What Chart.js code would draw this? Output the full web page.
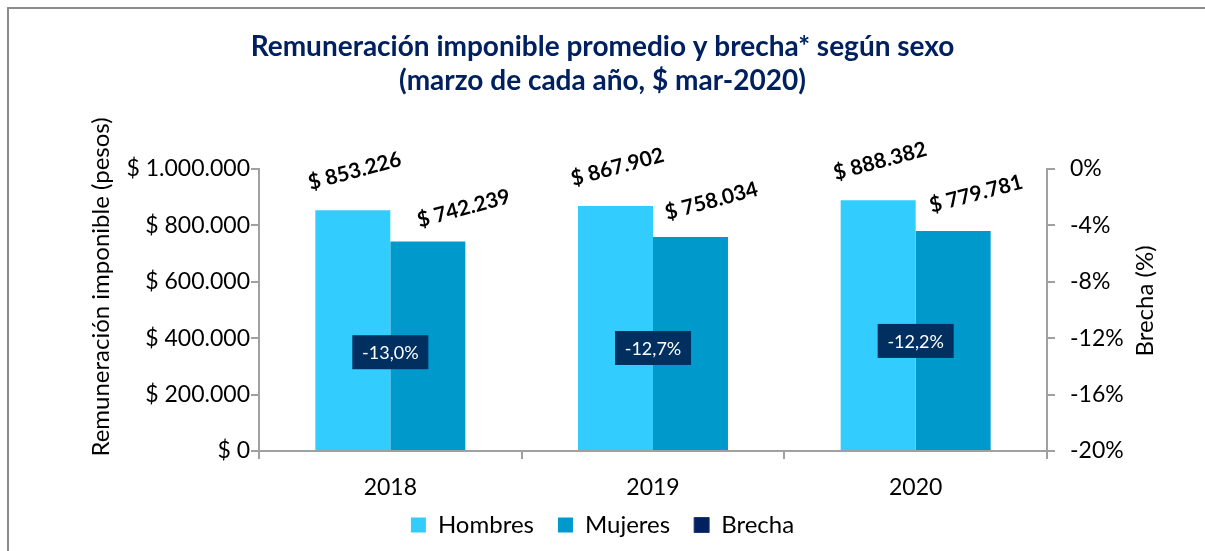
<!DOCTYPE html>
<html>
<head>
<meta charset="utf-8">
<script src="https://cdn.jsdelivr.net/npm/chart.js@4.4.0/dist/chart.umd.min.js"></script>
<style>
html, body { margin: 0; padding: 0; background: #fff; }
#wrap { position: relative; width: 1205px; height: 551px; }
#frame { position: absolute; left: 7px; top: 7px; right: 0; bottom: 0; border-top: 2px solid #8c8c8c; border-left: 2px solid #8c8c8c; pointer-events: none; }
</style>
</head>
<body>
<div id="wrap">
  <canvas id="chart" width="1205" height="551"></canvas>
  <div id="frame"></div>
</div>
<script>
// data
const years = ['2018', '2019', '2020'];
const hombres = [853226, 867902, 888382];
const mujeres = [742239, 758034, 779781];
const brecha = [-13.0, -12.7, -12.2];
const leftAxisTitle = 'Remuneración imponible (pesos)';
const rightAxisTitle = 'Brecha (%)';
const titleLines = ['Remuneración imponible promedio y brecha* según sexo', '(marzo de cada año, $ mar-2020)'];

const FONT = 'Lato';
const AXIS_GREY = '#A0A0A0';
const NAVY = '#002060';

function fmtPesos(n) {
    return '$ ' + Math.round(n).toString().replace(/\B(?=(\d{3})+(?!\d))/g, '.');
}
function fmtPct(v) {
    return v.toFixed(1).replace('.', ',') + '%';
}

// label nudges (px) for the rotated value labels, like the moved labels in the original
const labelShift = [
    [[2, -39], [2, -39], [2, -39]],
    [[36, -33], [21, -36], [23, -37]]
];

const labelsPlugin = {
    id: 'valueLabels',
    afterDatasetsDraw(chart) {
        const ctx = chart.ctx;
        [0, 1].forEach(di => {
            const meta = chart.getDatasetMeta(di);
            meta.data.forEach((bar, i) => {
                const v = chart.data.datasets[di].data[i];
                ctx.save();
                ctx.translate(bar.x + labelShift[di][i][0], bar.y + labelShift[di][i][1]);
                ctx.rotate(-15 * Math.PI / 180);
                ctx.font = 'bold 21px ' + FONT;
                ctx.fillStyle = '#000';
                ctx.textAlign = 'center';
                ctx.textBaseline = 'middle';
                ctx.fillText(fmtPesos(v), 0, 0);
                ctx.restore();
            });
        });
        // brecha boxes
        const meta = chart.getDatasetMeta(2);
        meta.data.forEach((pt, i) => {
            const w = 76, h = 34;
            ctx.save();
            ctx.fillStyle = '#002F60';
            ctx.fillRect(pt.x - w / 2, pt.y - h / 2, w, h);
            ctx.font = '18px ' + FONT;
            ctx.fillStyle = '#fff';
            ctx.textAlign = 'center';
            ctx.textBaseline = 'middle';
            ctx.fillText(fmtPct(brecha[i]), pt.x, pt.y + 1);
            ctx.restore();
        });
    },
    afterDraw(chart) {
        // axis titles, both reading bottom to top
        const ctx = chart.ctx;
        ctx.save();
        ctx.font = '24px ' + FONT;
        ctx.fillStyle = '#000';
        ctx.textAlign = 'center';
        ctx.textBaseline = 'middle';
        ctx.translate(101, 287);
        ctx.rotate(-Math.PI / 2);
        ctx.fillText(leftAxisTitle, 0, 0);
        ctx.restore();
        ctx.save();
        ctx.font = '24px ' + FONT;
        ctx.fillStyle = '#000';
        ctx.textAlign = 'center';
        ctx.textBaseline = 'middle';
        ctx.translate(1145, 301);
        ctx.rotate(-Math.PI / 2);
        ctx.fillText(rightAxisTitle, 0, 0);
        ctx.restore();
    }
};

const ctx = document.getElementById('chart').getContext('2d');
const chart = new Chart(ctx, {
    type: 'bar',
    data: {
        labels: years,
        datasets: [
            { label: 'Hombres', data: hombres, backgroundColor: '#33CCFF', yAxisID: 'y', categoryPercentage: 0.571, barPercentage: 1 },
            { label: 'Mujeres', data: mujeres, backgroundColor: '#0099CC', yAxisID: 'y', categoryPercentage: 0.571, barPercentage: 1 },
            { label: 'Brecha', type: 'line', data: brecha, yAxisID: 'y2', showLine: false, pointRadius: 0, pointHoverRadius: 0,
              backgroundColor: NAVY, borderColor: '#1F3A6E', borderWidth: 1 }
        ]
    },
    options: {
        responsive: false,
        animation: false,
        layout: { padding: { left: 0, right: 0, top: 0, bottom: 4 } },
        plugins: {
            title: {
                display: true,
                text: titleLines,
                color: NAVY,
                font: { family: FONT, size: 28, weight: 'bold', lineHeight: 1.21 },
                padding: { top: 30, bottom: 71 }
            },
            legend: {
                position: 'bottom',
                labels: {
                    color: '#000',
                    font: { family: FONT, size: 24 },
                    boxWidth: 15,
                    boxHeight: 15,
                    padding: 24
                }
            },
            tooltip: { enabled: false }
        },
        scales: {
            x: {
                grid: { display: true, drawOnChartArea: false, offset: true, tickLength: 8, color: AXIS_GREY, lineWidth: 2 },
                border: { color: AXIS_GREY, width: 2 },
                ticks: { color: '#000', font: { family: FONT, size: 23 }, padding: 15 },
                afterFit: s => {
                    s.height = 38;
                    // the year labels hang below this short box, so don't clip them
                    s._computeLabelArea = () => undefined;
                }
            },
            y: {
                position: 'left',
                min: 0,
                max: 1000000,
                ticks: { stepSize: 200000, color: '#000', font: { family: FONT, size: 23 }, padding: 1, callback: v => fmtPesos(v) },
                grid: { drawOnChartArea: false, tickLength: 8, color: AXIS_GREY, lineWidth: 2 },
                border: { color: AXIS_GREY, width: 2 },
                afterFit: s => { s.width = 259; }
            },
            y2: {
                position: 'right',
                min: -20,
                max: 0,
                ticks: { stepSize: 4, color: '#000', font: { family: FONT, size: 23 }, padding: 15, callback: v => v + '%' },
                grid: { drawOnChartArea: false, tickLength: 8, color: AXIS_GREY, lineWidth: 2 },
                border: { color: AXIS_GREY, width: 2 },
                afterFit: s => { s.width = 158; }
            }
        }
    },
    plugins: [labelsPlugin]
});
</script>
</body>
</html>
